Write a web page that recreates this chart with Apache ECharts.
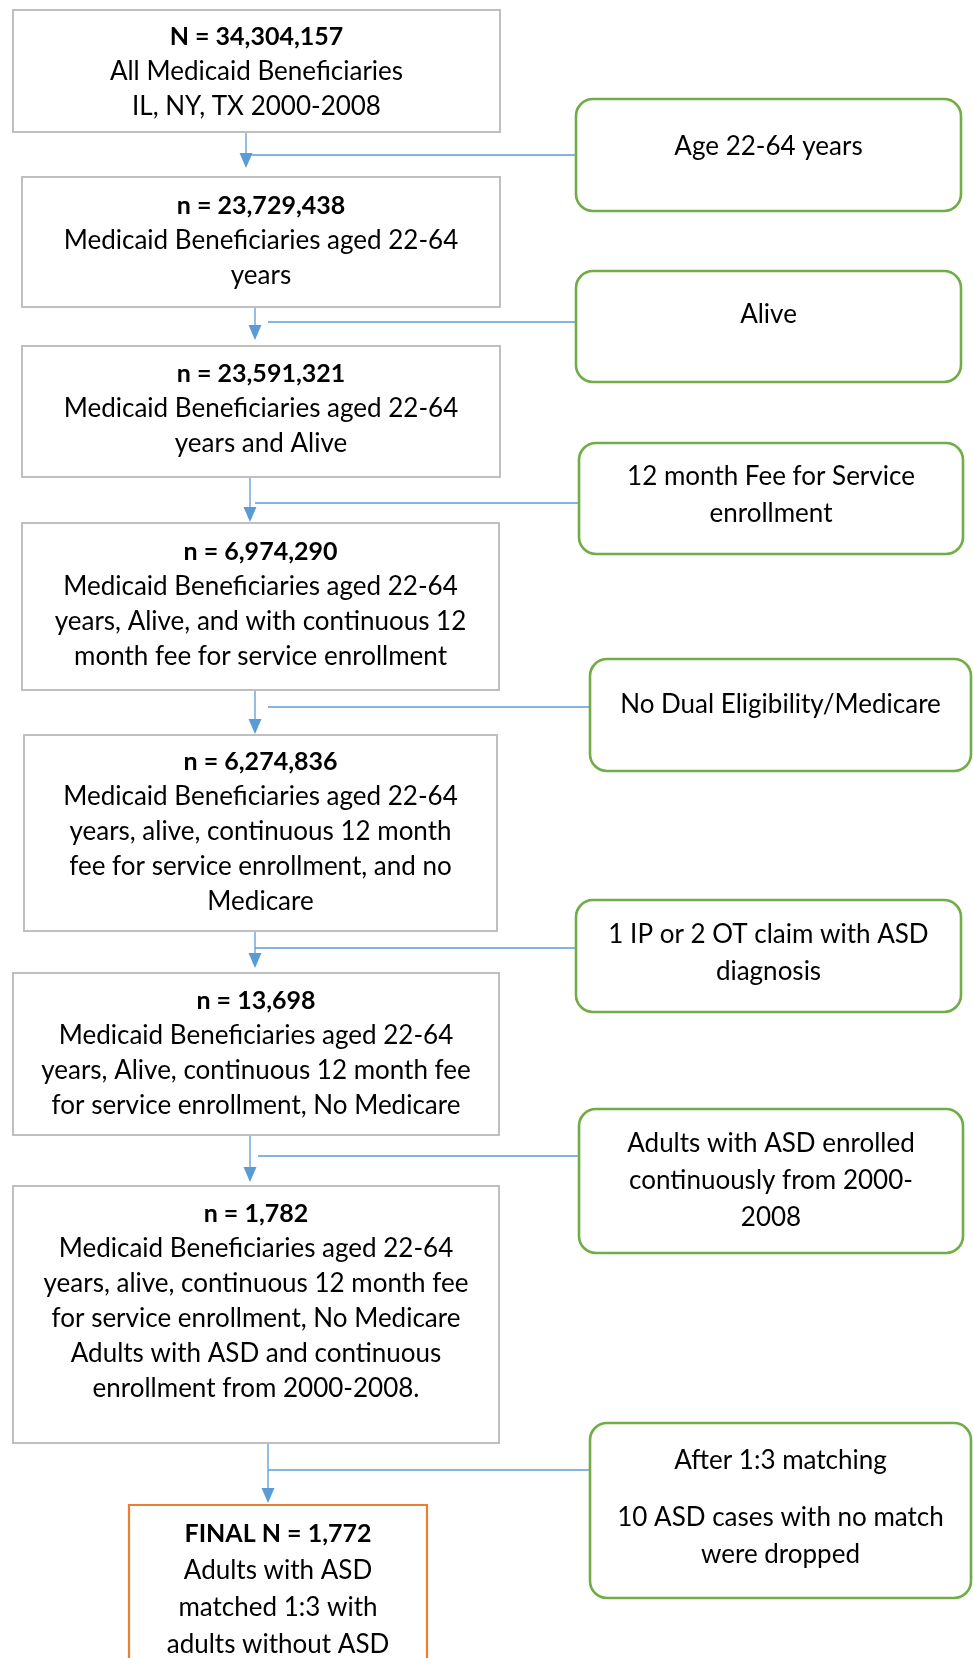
<!DOCTYPE html>
<html>
<head>
<meta charset="utf-8">
<script src="https://cdn.jsdelivr.net/npm/echarts@6/dist/echarts.min.js"></script>
<style>
html,body{margin:0;padding:0;background:#fff;}
#chart{width:973px;height:1658px;}
</style>
</head>
<body>
<div id="chart"></div>
<script>
// ---- content ----
const mainCounts = ['N = 34,304,157','n = 23,729,438','n = 23,591,321','n = 6,974,290','n = 6,274,836','n = 13,698','n = 1,782','FINAL N = 1,772'];
const mainDescriptions = [
  ['All Medicaid Beneficiaries','IL, NY, TX 2000-2008'],
  ['Medicaid Beneficiaries aged 22-64','years'],
  ['Medicaid Beneficiaries aged 22-64','years and Alive'],
  ['Medicaid Beneficiaries aged 22-64','years, Alive, and with continuous 12','month fee for service enrollment'],
  ['Medicaid Beneficiaries aged 22-64','years, alive, continuous 12 month','fee for service enrollment, and no','Medicare'],
  ['Medicaid Beneficiaries aged 22-64','years, Alive, continuous 12 month fee','for service enrollment, No Medicare'],
  ['Medicaid Beneficiaries aged 22-64','years, alive, continuous 12 month fee','for service enrollment, No Medicare','Adults with ASD and continuous','enrollment from 2000-2008.'],
  ['Adults with ASD','matched 1:3 with','adults without ASD']
];
const exclusionCriteria = [
  ['Age 22-64 years'],
  ['Alive'],
  ['12 month Fee for Service','enrollment'],
  ['No Dual Eligibility/Medicare'],
  ['1 IP or 2 OT claim with ASD','diagnosis'],
  ['Adults with ASD enrolled','continuously from 2000-','2008'],
  ['After 1:3 matching','','10 ASD cases with no match','were dropped']
];

// ---- layout (in page units, mapped through hidden value axes) ----
const mainBoxes = [[13,10,500,132],[22,177,500,307],[22,346,500,477],[22,523,499,690],[24,735,497,931],[13,973,499,1135],[13,1186,499,1443],[129,1505,427,1700]];
const mainTextY = [72,241,409,604,832,1053,1301,1589];
const sideBoxes = [[576,99,961,211],[576,271,961,382],[579,443,963,554],[590,659,971,771],[576,900,961,1012],[579,1109,963,1253],[590,1423,971,1598]];
const sideTextY = [147,315,495,705,953,1181,1508];
// [x, yFrom, yTip, yBranch, xBranchStart, xBranchEnd]
const connectors = [
  [246,132,168,155,246,576],
  [255,307,340,322,268,576],
  [250,477,522,503,255,579],
  [255,690,734,707,268,590],
  [255,931,968,948,255,576],
  [250,1135,1182,1156,258,579],
  [268,1443,1503,1470,268,590]
];

const FONT = 'Lato';
const FS = 26;
const FSB = 25;

const chart = echarts.init(document.getElementById('chart'), null, {renderer:'canvas'});

function mainText(i){
  const lh = i === 7 ? 37 : 35;
  return {
    text: ['{b|' + mainCounts[i] + '}'].concat(mainDescriptions[i].map(l => '{n|' + l + '}')).join('\n'),
    rich: {
      b:{fontFamily:FONT,fontSize:FSB,fontWeight:'bold',lineHeight:lh,fill:'#000',align:'center'},
      n:{fontFamily:FONT,fontSize:FS,lineHeight:lh,fill:'#000',align:'center'}
    }
  };
}
function sideText(i){
  return {
    text: exclusionCriteria[i].map(l => l === '' ? '{s| }' : '{n|' + l + '}').join('\n'),
    rich: {
      n:{fontFamily:FONT,fontSize:FS,lineHeight:37,fill:'#000',align:'center'},
      s:{fontFamily:FONT,fontSize:8,lineHeight:20,fill:'#000',align:'center'}
    }
  };
}

const option = {
  backgroundColor:'#ffffff',
  animation:false,
  grid:{left:0,right:0,top:0,bottom:0},
  xAxis:{type:'value',min:0,max:973,show:false},
  yAxis:{type:'value',min:0,max:1658,inverse:true,show:false},
  series:[
    {
      type:'custom', name:'connectors', clip:false,
      data: connectors.map((c,i)=>[c[0],c[1],c[2],c[3],c[4],c[5],i]),
      encode:{x:[0,4,5],y:[1,2,3]},
      renderItem:function(params, api){
        const x = api.value(0), y0 = api.value(1), yt = api.value(2), yb = api.value(3), xs = api.value(4), xe = api.value(5);
        const pTop = api.coord([x,y0]);
        const pTip = api.coord([x,yt]);
        const pb0 = api.coord([xs,yb]);
        const pb1 = api.coord([xe,yb]);
        const ah = 15, aw = 6.5;
        const col = '#5B9BD5';
        return {type:'group', children:[
          {type:'line', shape:{x1:pTop[0],y1:pTop[1],x2:pTip[0],y2:pTip[1]-ah+1}, style:{stroke:col,lineWidth:1.3}},
          {type:'polygon', shape:{points:[[pTip[0]-aw,pTip[1]-ah],[pTip[0]+aw,pTip[1]-ah],[pTip[0],pTip[1]]]}, style:{fill:col}},
          {type:'line', shape:{x1:pb0[0],y1:pb0[1],x2:pb1[0],y2:pb1[1]}, style:{stroke:col,lineWidth:1.6}}
        ]};
      }
    },
    {
      type:'custom', name:'main', clip:false,
      data: mainBoxes.map((b,i)=>[b[0],b[1],b[2],b[3],mainTextY[i],i]),
      encode:{x:[0,2],y:[1,3]},
      renderItem:function(params, api){
        const i = api.value(5);
        const p0 = api.coord([api.value(0),api.value(1)]);
        const p1 = api.coord([api.value(2),api.value(3)]);
        const tc = api.coord([(api.value(0)+api.value(2))/2, api.value(4)]);
        const t = mainText(i);
        const isFinal = i === 7;
        return {type:'group', children:[
          {type:'rect', shape:{x:p0[0],y:p0[1],width:p1[0]-p0[0],height:p1[1]-p0[1]},
           style:{fill:'#fff',stroke:isFinal?'#ED7D31':'#BFBFBF',lineWidth:isFinal?2.2:2}},
          {type:'text', x:tc[0], y:tc[1], style:{text:t.text, rich:t.rich, align:'center', verticalAlign:'middle', font: FS+'px '+FONT}}
        ]};
      }
    },
    {
      type:'custom', name:'side', clip:false,
      data: sideBoxes.map((b,i)=>[b[0],b[1],b[2],b[3],sideTextY[i],i]),
      encode:{x:[0,2],y:[1,3]},
      renderItem:function(params, api){
        const i = api.value(5);
        const p0 = api.coord([api.value(0),api.value(1)]);
        const p1 = api.coord([api.value(2),api.value(3)]);
        const tc = api.coord([(api.value(0)+api.value(2))/2, api.value(4)]);
        const t = sideText(i);
        return {type:'group', children:[
          {type:'rect', shape:{x:p0[0],y:p0[1],width:p1[0]-p0[0],height:p1[1]-p0[1],r:17},
           style:{fill:'#fff',stroke:'#70AD47',lineWidth:2.6}},
          {type:'text', x:tc[0], y:tc[1], style:{text:t.text, rich:t.rich, align:'center', verticalAlign:'middle', font: FS+'px '+FONT}}
        ]};
      }
    }
  ]
};
chart.setOption(option);
</script>
</body>
</html>
